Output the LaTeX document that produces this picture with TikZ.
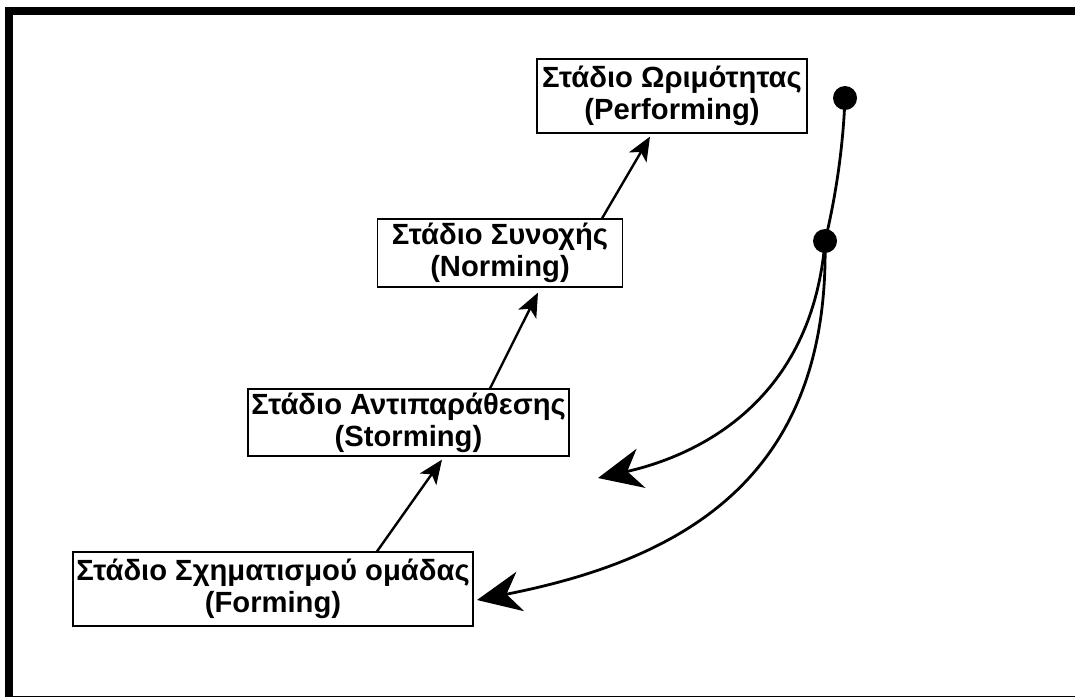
\documentclass[tikz,border=0pt]{standalone}
\usepackage{fontspec}
\setmainfont{Liberation Sans}
\usetikzlibrary{arrows.meta}
\tikzset{
  stage/.style={draw,line width=0.6pt,inner sep=0pt,align=center,
    font=\fontsize{14.6}{16}\selectfont\bfseries},
  flow/.style={line width=1.2pt,-{Stealth[length=12pt,width=10pt,inset=3pt]}},
  loop/.style={line width=1.4pt,-{Stealth[length=22pt,width=20pt,inset=7pt]}}
}
\begin{document}
\begin{tikzpicture}[x=0.5pt,y=-0.5pt]
                \useasboundingbox (0,0) rectangle (1075,698);
                \draw[line width=4pt] (9,697) -- (9,11) -- (1075,11); % marco
                \draw[line width=0.75pt] (5,696.5) -- (1075,696.5);
                \node[stage,minimum width=135pt,minimum height=37pt] (perf) at (672,96) {Στάδιο Ωριμότητας\\(Performing)};
                \node[stage,minimum width=122.5pt,minimum height=34pt] (norm) at (500,253) {Στάδιο Συνοχής\\(Norming)};
                \node[stage,minimum width=160.5pt,minimum height=33.5pt] (storm) at (408.5,422.5) {Στάδιο Αντιπαράθεσης\\(Storming)};
                \node[stage,minimum width=200pt,minimum height=37pt] (form) at (273,589) {Στάδιο Σχηματισμού ομάδας\\(Forming)};
                \draw[flow] ([xshift=52pt]form.north) -- ([xshift=16.75pt,yshift=-1.5pt]storm.south);
                \draw[flow] ([xshift=40.75pt]storm.north) -- ([xshift=19pt,yshift=-2.5pt]norm.south);
                \draw[flow] ([xshift=51pt]norm.north) -- ([xshift=-11pt,yshift=-1.5pt]perf.south);
                % curvas de vuelta
                \coordinate (top) at (845,98);
                \coordinate (mid) at (825,241);
                \coordinate (back1) at (598,478);
                \coordinate (back2) at (477,600);
                \draw[line width=1.4pt] (top) .. controls (843,150) and (835,200) .. (mid);
                \draw[loop] (mid) .. controls (812,400) and (700,455) .. (back1);
                \draw[loop] (mid) .. controls (830,480) and (680,560) .. (back2);
                \fill (top) circle [radius=6pt];
                \fill (mid) circle [radius=6pt];
\end{tikzpicture}
\end{document}
